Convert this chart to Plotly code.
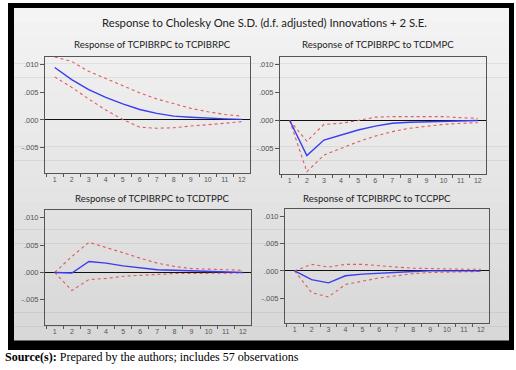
import plotly.graph_objects as go

W, H = 516, 370
periods = list(range(1, 13))

# Response of TCPIBRPC to TCPIBRPC
p1_resp = [0.0095, 0.0073, 0.0055, 0.0041, 0.0029, 0.0019, 0.0012, 0.0007, 0.0005, 0.0003, 0.0002, 0.0001]
p1_up   = [0.0114, 0.0106, 0.0088, 0.0075, 0.0062, 0.0049, 0.0038, 0.0029, 0.0021, 0.0015, 0.0010, 0.0007]
p1_lo   = [0.0078, 0.0059, 0.0038, 0.0018, 0.0001, -0.0013, -0.0015, -0.0014, -0.0011, -0.0009, -0.0006, -0.0003]
# Response of TCPIBRPC to TCDMPC
p2_resp = [0.0, -0.0063, -0.0035, -0.0026, -0.0017, -0.0010, -0.0005, -0.0003, -0.0002, -0.0001, 0.0, 0.0]
p2_up   = [0.0, -0.0037, -0.0007, -0.0005, 0.0, 0.0006, 0.0007, 0.0007, 0.0007, 0.0007, 0.0005, 0.0004]
p2_lo   = [0.0, -0.0092, -0.0062, -0.0050, -0.0038, -0.0028, -0.0020, -0.0014, -0.0010, -0.0007, -0.0005, -0.0004]
# Response of TCPIBRPC to TCDTPPC
p3_resp = [0.0, -0.0001, 0.0020, 0.0017, 0.0012, 0.0008, 0.0005, 0.0004, 0.0003, 0.0002, 0.0001, 0.0]
p3_up   = [0.0, 0.0029, 0.0055, 0.0046, 0.0036, 0.0026, 0.0017, 0.0011, 0.0007, 0.0006, 0.0005, 0.0004]
p3_lo   = [0.0, -0.0033, -0.0013, -0.0011, -0.0007, -0.0005, -0.0003, -0.0002, -0.0002, -0.0002, -0.0001, -0.0001]
# Response of TCPIBRPC to TCCPPC
p4_resp = [0.0, -0.0016, -0.0022, -0.0009, -0.0006, -0.0004, -0.0002, -0.0001, 0.0, 0.0, 0.0, 0.0]
p4_up   = [0.0, 0.0012, 0.0007, 0.0012, 0.0012, 0.0009, 0.0007, 0.0005, 0.0004, 0.0003, 0.0003, 0.0003]
p4_lo   = [0.0, -0.0040, -0.0048, -0.0025, -0.0019, -0.0013, -0.0009, -0.0005, -0.0003, -0.0002, -0.0001, -0.0001]

ytick_vals = [0.010, 0.005, 0.0, -0.005]
ytick_text = [".010", ".005", ".000", "-.005"]

main_title = "Response to Cholesky One S.D. (d.f. adjusted) Innovations + 2 S.E."
titles = ["Response of TCPIBRPC to TCPIBRPC", "Response of TCPIBRPC to TCDMPC",
          "Response of TCPIBRPC to TCDTPPC", "Response of TCPIBRPC to TCCPPC"]
source_text = "<b>Source(s):</b> Prepared by the authors; includes 57 observations"

panels = [(p1_resp, p1_up, p1_lo), (p2_resp, p2_up, p2_lo),
          (p3_resp, p3_up, p3_lo), (p4_resp, p4_up, p4_lo)]

# plot-area boxes in pixels (x0, x1, ytop, ybottom)
boxes = [(45, 250, 57, 173), (280, 486, 57, 174), (45, 251, 210, 325), (285, 489, 209, 323)]
title_pos = [(152, 45), (378, 45), (152, 199), (377, 198)]

fig = go.Figure()

def px(x):
    return x / W

def py(y):
    return 1 - y / H

for i, (resp, up, lo) in enumerate(panels):
    n = "" if i == 0 else str(i + 1)
    xa, ya = "x" + n, "y" + n
    for vals, color, dash, width in [(up, "#e35a5a", "dot", 1.1), (lo, "#e35a5a", "dot", 1.1),
                                     (resp, "#3b3bf0", "solid", 1.4)]:
        fig.add_trace(go.Scatter(x=periods, y=vals, mode="lines", xaxis=xa, yaxis=ya,
                                 line=dict(color=color, dash=dash, width=width),
                                 showlegend=False, hoverinfo="skip"))
    x0, x1, yt, yb = boxes[i]
    fig.layout["xaxis" + n] = dict(
        domain=[px(x0), px(x1)], anchor=ya, range=[0.43, 12.48],
        tickvals=periods, ticktext=[str(p) for p in periods], ticks="",
        tickfont=dict(size=7, color="#555", family="Liberation Sans"),
        showgrid=False, zeroline=False, showline=True, linecolor="#555", linewidth=1, mirror=True,
        minor=dict(tickvals=[p + 0.5 for p in range(0, 13)], ticks="outside", ticklen=3,
                   tickcolor="#555", tickwidth=1, showgrid=False),
        fixedrange=True)
    fig.layout["yaxis" + n] = dict(
        domain=[py(yb), py(yt)], anchor=xa, range=[-0.0096, 0.0114],
        tickvals=ytick_vals, ticktext=ytick_text, ticks="outside", ticklen=4,
        tickcolor="#555", tickfont=dict(size=7.5, color="#555", family="Liberation Sans"),
        showgrid=False, zeroline=True, zerolinecolor="#111", zerolinewidth=1,
        showline=True, linecolor="#555", linewidth=1, mirror=True, fixedrange=True)
    tx, ty = title_pos[i]
    fig.add_annotation(text=titles[i], x=px(tx), y=py(ty), xref="paper", yref="paper",
                       showarrow=False, xanchor="center", yanchor="middle",
                       font=dict(size=9.6, color="#222", family="Lato"))

shapes = [dict(type="rect", xref="paper", yref="paper", x0=px(8), x1=px(514), y0=py(350), y1=py(3),
               fillcolor="black", line=dict(width=0), layer="below")]
nb = 24
top, bot = 8, 340
for k in range(nb):
    y0 = top + (bot - top) * k / nb
    y1 = top + (bot - top) * (k + 1) / nb
    c = int(244 - (244 - 216) * k / (nb - 1))
    shapes.append(dict(type="rect", xref="paper", yref="paper", x0=px(14), x1=px(509),
                       y0=py(y1 + 0.5), y1=py(y0), fillcolor=f"rgb({c},{c},{c})",
                       line=dict(width=0), layer="below"))
fig.update_layout(shapes=shapes)

fig.add_annotation(text=main_title, x=px(264), y=py(22), xref="paper", yref="paper",
                   showarrow=False, xanchor="center", yanchor="middle",
                   font=dict(size=11.3, color="#222", family="Lato"))
fig.add_annotation(text=source_text, x=px(3), y=py(357), xref="paper", yref="paper",
                   showarrow=False, xanchor="left", yanchor="middle",
                   font=dict(size=12, color="#000", family="Liberation Serif"))

fig.update_layout(width=W, height=H, margin=dict(l=0, r=0, t=0, b=0),
                  paper_bgcolor="white", plot_bgcolor="white", showlegend=False)

fig.write_html("out.html", config={"displayModeBar": False},
               post_script="document.body.style.margin='0';document.body.style.overflow='hidden';")
